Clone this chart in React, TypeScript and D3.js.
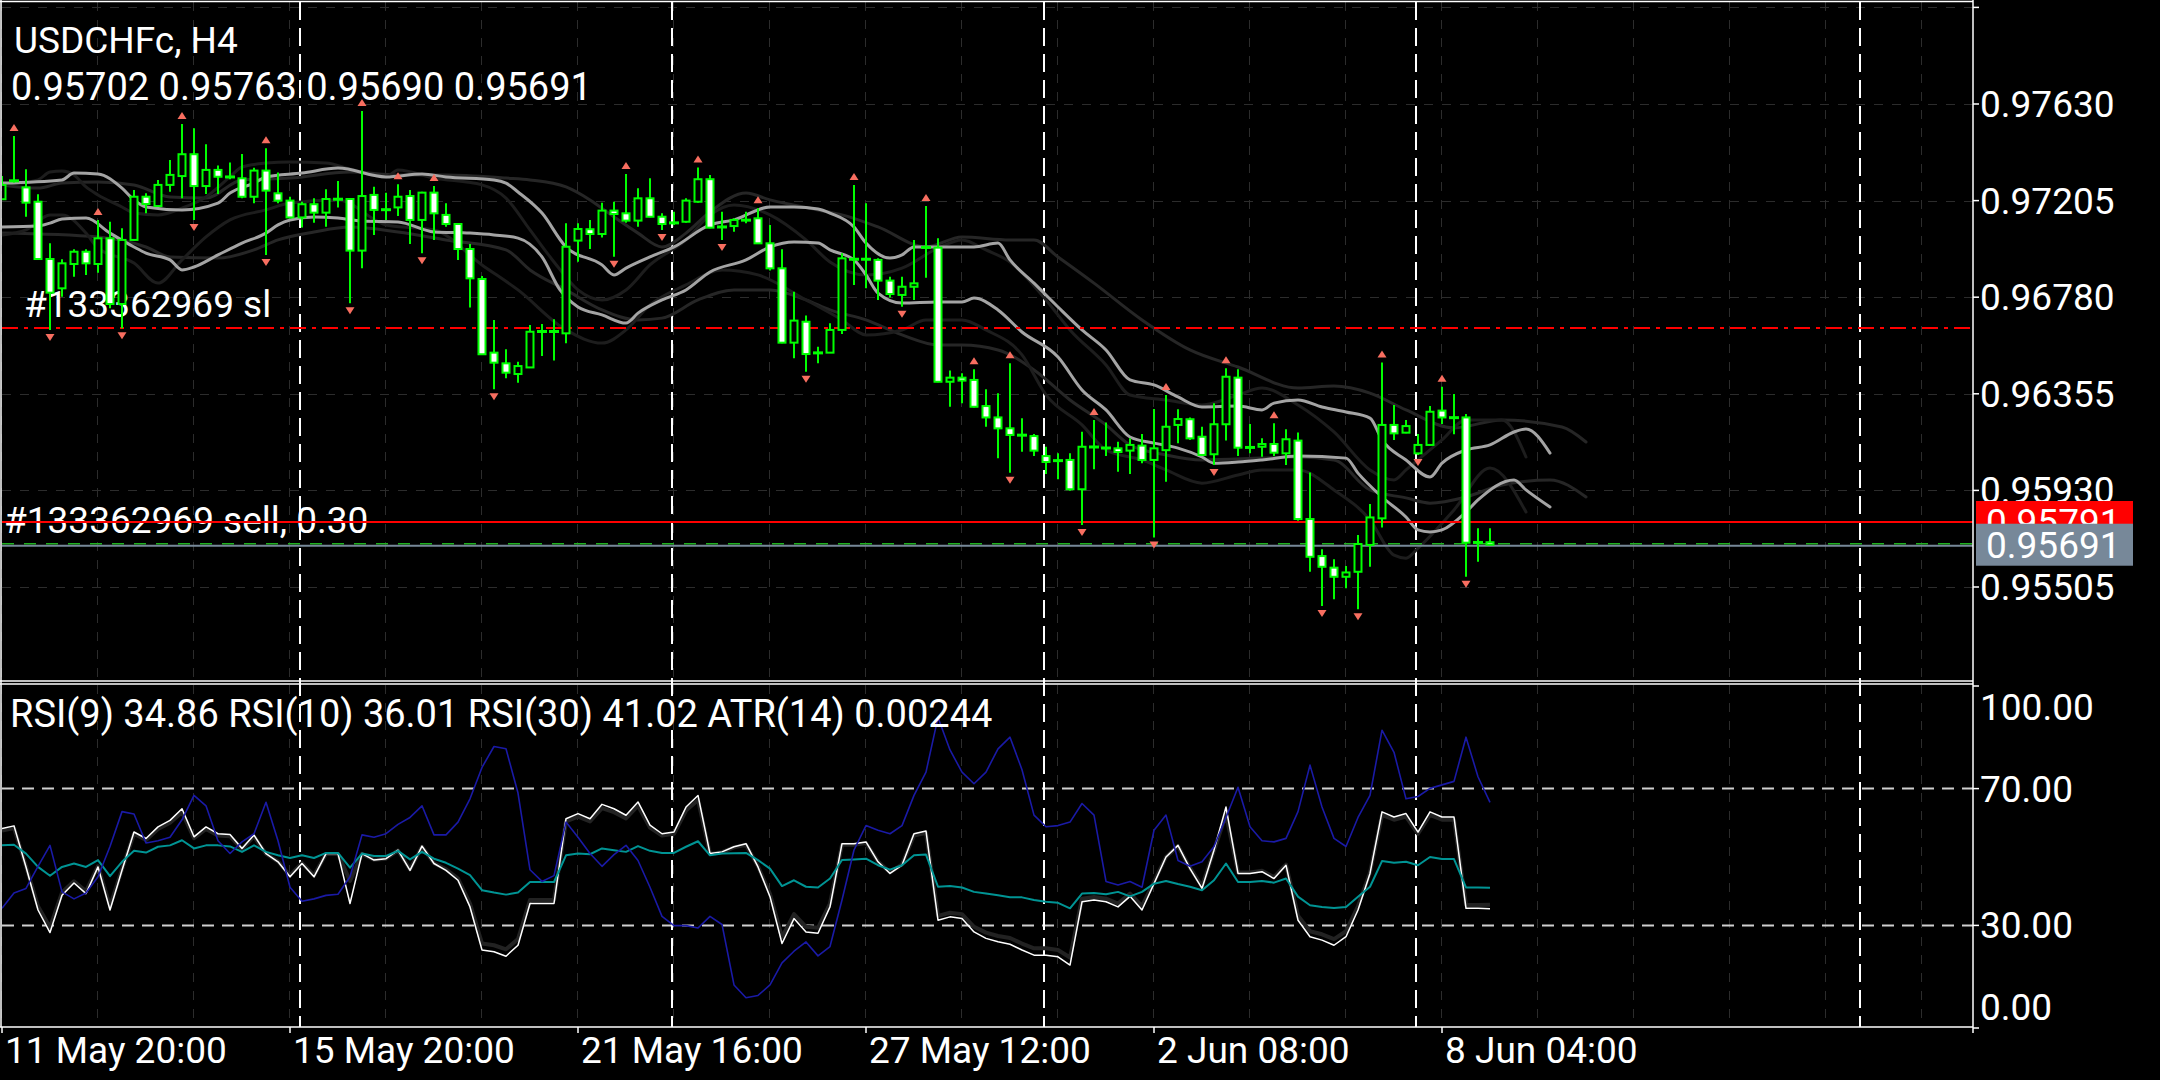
import React, { useEffect } from "react";
import * as d3 from "d3";

// ---------- DATA ----------
const symbolTitle = "USDCHFc, H4";
const ohlcHeader = "0.95702 0.95763 0.95690 0.95691";
const slLabel = "#133362969 sl";
const orderLabel = "#133362969 sell, 0.30";
const indicatorLabel = "RSI(9) 34.86 RSI(10) 36.01 RSI(30) 41.02 ATR(14) 0.00244";

const slPrice = 0.96644;
const orderPrice = 0.95791;
const bidPrice = 0.95691;

const priceTicks = [0.9763, 0.97205, 0.9678, 0.96355, 0.9593, 0.95505];
const priceGridTop = 0.98055;
const rsiTicks = [100, 70, 30, 0];
const rsiLevels = [70, 30];
const timeLabelBars = [0, 24, 48, 72, 96, 120];
const timeLabels = ["11 May 20:00", "15 May 20:00", "21 May 16:00", "27 May 12:00", "2 Jun 08:00", "8 Jun 04:00"];
const weekStartBars = [25, 56, 87, 118, 155];

const candleOpen = [
  0.97211, 0.97288, 0.97263, 0.972, 0.96948, 0.96819, 0.96926, 0.9698, 0.96926, 0.97039,
  0.9675, 0.97032, 0.97222, 0.97181, 0.97274, 0.97313, 0.97409, 0.97269, 0.9734, 0.9731,
  0.97303, 0.97222, 0.97337, 0.97237, 0.97205, 0.97131, 0.97189, 0.97152, 0.97212, 0.97212,
  0.96985, 0.9723, 0.97164, 0.97175, 0.97225, 0.9712, 0.9724, 0.97142, 0.97102, 0.96992,
  0.9686, 0.96536, 0.96489, 0.96442, 0.96471, 0.96628, 0.9663, 0.96621, 0.97029, 0.97079,
  0.97058, 0.97161, 0.97149, 0.97117, 0.97215, 0.97134, 0.97108, 0.97112, 0.972, 0.97299,
  0.9709, 0.97093, 0.9712, 0.97127, 0.97017, 0.96907, 0.9658, 0.96672, 0.96536, 0.96536,
  0.96636, 0.96948, 0.96946, 0.96944, 0.96853, 0.9679, 0.96826, 0.96998, 0.96998, 0.96408,
  0.96426, 0.96416, 0.96301, 0.96251, 0.96203, 0.96174, 0.96169, 0.96081, 0.96062, 0.96064,
  0.95935, 0.96122, 0.96118, 0.96115, 0.96105, 0.96127, 0.96064, 0.96107, 0.96218, 0.96243,
  0.96166, 0.96089, 0.96221, 0.96426, 0.96118, 0.96122, 0.96134, 0.96093, 0.96149, 0.95804,
  0.95641, 0.9559, 0.9555, 0.95572, 0.9569, 0.95807, 0.96218, 0.96184, 0.96093, 0.9613,
  0.96281, 0.96251, 0.96251, 0.957, 0.95702,
];
const candleHigh = [
  0.97313, 0.97489, 0.97343, 0.97233, 0.97017, 0.96947, 0.96991, 0.96991, 0.9712, 0.97112,
  0.97083, 0.97252, 0.97237, 0.97296, 0.97384, 0.97542, 0.97523, 0.97453, 0.97359, 0.97373,
  0.9741, 0.9735, 0.97435, 0.97329, 0.97222, 0.972, 0.97215, 0.97255, 0.97291, 0.97214,
  0.97599, 0.97266, 0.9724, 0.97277, 0.97252, 0.97244, 0.97269, 0.97193, 0.97105, 0.97014,
  0.96873, 0.9668, 0.96551, 0.96496, 0.96658, 0.96662, 0.96683, 0.97105, 0.97105, 0.9712,
  0.97196, 0.972, 0.97322, 0.97259, 0.97303, 0.97149, 0.97156, 0.97215, 0.97351, 0.97318,
  0.97156, 0.97127, 0.97156, 0.97171, 0.97098, 0.96991, 0.96804, 0.96699, 0.96562, 0.96665,
  0.96973, 0.97274, 0.97193, 0.96951, 0.9687, 0.9687, 0.97032, 0.97181, 0.97039, 0.96457,
  0.96445, 0.96463, 0.96375, 0.96357, 0.96489, 0.96247, 0.96178, 0.96122, 0.96093, 0.96093,
  0.96188, 0.9624, 0.96229, 0.96144, 0.96159, 0.96178, 0.96288, 0.9635, 0.96287, 0.96251,
  0.9621, 0.96313, 0.96467, 0.96463, 0.96222, 0.96159, 0.96225, 0.96199, 0.96185, 0.96009,
  0.95671, 0.95627, 0.95597, 0.95734, 0.9587, 0.96493, 0.96306, 0.9624, 0.96178, 0.96301,
  0.96386, 0.96354, 0.96266, 0.95763, 0.95763,
];
const candleLow = [
  0.97208, 0.97285, 0.97134, 0.96946, 0.96636, 0.96782, 0.9687, 0.96878, 0.96888, 0.96731,
  0.96643, 0.9703, 0.97149, 0.97178, 0.97244, 0.97215, 0.9712, 0.97234, 0.97234, 0.97299,
  0.97215, 0.97193, 0.96966, 0.97193, 0.97127, 0.97087, 0.97108, 0.9709, 0.97175, 0.96753,
  0.96907, 0.97054, 0.9712, 0.97137, 0.97014, 0.96973, 0.97032, 0.9709, 0.96944, 0.96735,
  0.96526, 0.96375, 0.96423, 0.96404, 0.96468, 0.96521, 0.96501, 0.96577, 0.96936, 0.96992,
  0.97043, 0.96958, 0.97108, 0.9709, 0.97132, 0.97076, 0.97098, 0.97108, 0.97196, 0.97083,
  0.97032, 0.97068, 0.97105, 0.97015, 0.96897, 0.96577, 0.96511, 0.96452, 0.96489, 0.96534,
  0.96618, 0.96834, 0.96819, 0.96768, 0.96779, 0.96738, 0.96768, 0.96866, 0.96406, 0.96298,
  0.96313, 0.96295, 0.9621, 0.96071, 0.96008, 0.961, 0.96081, 0.96002, 0.95979, 0.95929,
  0.95778, 0.96023, 0.96081, 0.96012, 0.96002, 0.96049, 0.95723, 0.95968, 0.96137, 0.96152,
  0.96084, 0.96042, 0.96149, 0.96081, 0.96093, 0.96078, 0.96081, 0.96042, 0.95797, 0.95572,
  0.95421, 0.95451, 0.95499, 0.95407, 0.95594, 0.95767, 0.96152, 0.96181, 0.96086, 0.96128,
  0.96222, 0.96177, 0.9555, 0.95616, 0.9569,
];
const candleClose = [
  0.97274, 0.97296, 0.97196, 0.96948, 0.968, 0.96929, 0.9698, 0.96929, 0.97039, 0.9675,
  0.97032, 0.97222, 0.9719, 0.97274, 0.97318, 0.97409, 0.97269, 0.9734, 0.9731, 0.97308,
  0.97222, 0.97337, 0.97249, 0.97205, 0.97131, 0.97189, 0.97152, 0.97212, 0.9721, 0.96985,
  0.97225, 0.97164, 0.97166, 0.97222, 0.9712, 0.9724, 0.97149, 0.97102, 0.96992, 0.96863,
  0.96529, 0.96492, 0.96448, 0.96477, 0.96628, 0.9663, 0.96628, 0.97002, 0.9708, 0.97058,
  0.97161, 0.97146, 0.97117, 0.97215, 0.97134, 0.97102, 0.97106, 0.97205, 0.97299, 0.97086,
  0.97088, 0.9712, 0.97118, 0.97017, 0.96907, 0.9658, 0.96677, 0.9653, 0.96534, 0.96636,
  0.96951, 0.96946, 0.96948, 0.96853, 0.96794, 0.96826, 0.96841, 0.97, 0.96408, 0.96426,
  0.96413, 0.96298, 0.96251, 0.96203, 0.96174, 0.96172, 0.96105, 0.96055, 0.9606, 0.95935,
  0.96122, 0.9612, 0.96115, 0.96099, 0.9613, 0.96064, 0.96115, 0.9621, 0.96244, 0.96159,
  0.96086, 0.96221, 0.9643, 0.96118, 0.9612, 0.96134, 0.96096, 0.96155, 0.95804, 0.95638,
  0.95594, 0.9555, 0.95569, 0.95694, 0.95811, 0.96218, 0.96181, 0.96213, 0.9613, 0.96276,
  0.96251, 0.96249, 0.957, 0.95702, 0.95691,
];

const fractalUpBars = [1, 8, 15, 22, 30, 33, 36, 52, 58, 63, 71, 77, 81, 84, 91, 97, 102, 106, 115, 120];
const fractalDownBars = [4, 10, 16, 22, 29, 35, 41, 51, 55, 60, 67, 75, 84, 90, 96, 101, 110, 113, 118, 122];

// envelope-type overlays: [bar, price]
const envLightUpper: [number, number][] = [
  [0, 0.97282], [5, 0.97296], [6, 0.97326], [8, 0.97322], [10, 0.9726], [11, 0.97208], [12, 0.97177], [15, 0.97164],
  [18, 0.97194], [19, 0.97238], [21, 0.97282], [22, 0.97309], [25, 0.97326], [28, 0.97348], [32, 0.97309], [35, 0.97322],
  [37, 0.97309], [41, 0.97296], [42, 0.97282], [43, 0.97243], [45, 0.9715], [47, 0.97001], [50, 0.96922], [51, 0.96878],
  [52, 0.96908], [54, 0.96957], [56, 0.97001], [59, 0.97098], [61, 0.9712], [64, 0.97177], [66, 0.97177], [68, 0.97168],
  [69, 0.9715], [71, 0.97089], [72, 0.97018], [74, 0.96952], [75, 0.96966], [76, 0.97001], [79, 0.97001], [81, 0.97001],
  [83, 0.97018], [84, 0.96944], [86, 0.96842], [88, 0.96737], [90, 0.96636], [92, 0.96548], [94, 0.96416], [96, 0.96394],
  [98, 0.96341], [100, 0.96297], [103, 0.96301], [105, 0.96284], [106, 0.96314], [108, 0.96328], [110, 0.96297],
  [112, 0.96275], [114, 0.96248], [115, 0.96152], [117, 0.96064], [119, 0.95989], [120, 0.9605], [122, 0.96108],
  [124, 0.9613], [126, 0.96187], [127, 0.962], [129, 0.96094],
];
const envLightLower: [number, number][] = [
  [0, 0.97089], [3, 0.97093], [4, 0.97106], [5, 0.97124], [7, 0.97128], [9, 0.97062], [11, 0.97001], [12, 0.96974],
  [14, 0.96944], [15, 0.969], [16, 0.96913], [18, 0.96966], [20, 0.97018], [22, 0.97062], [23, 0.97098], [24, 0.9712],
  [26, 0.97133], [28, 0.97128], [30, 0.97115], [33, 0.97111], [36, 0.97067], [39, 0.97062], [41, 0.97054], [43, 0.9704],
  [45, 0.96957], [46.5, 0.96812], [48, 0.96737], [50, 0.96702], [52, 0.96666], [53, 0.9671], [55, 0.96768], [57, 0.96812],
  [59, 0.96891], [62, 0.96944], [64, 0.97001], [66, 0.97023], [68, 0.97018], [69, 0.96988], [71, 0.96944], [72, 0.96878],
  [73, 0.96798], [75, 0.96754], [78, 0.96759], [80, 0.96759], [81, 0.96776], [83, 0.96724], [85, 0.96627], [88, 0.96517],
  [90, 0.96372], [92, 0.96284], [94, 0.96165], [96, 0.96138], [98, 0.96116], [100, 0.96077], [101, 0.9605], [103, 0.96055],
  [105, 0.96064], [108, 0.96081], [112, 0.96072], [113, 0.96006], [115, 0.95901], [117, 0.95813], [118, 0.95756],
  [119, 0.95747], [120, 0.95756], [122, 0.95835], [123, 0.95888], [126, 0.95976], [127, 0.95932], [129, 0.95857],
];
const envSlowUpper: [number, number][] = [
  [0, 0.97274], [3, 0.9726], [5, 0.97282], [8, 0.97287], [11, 0.97274], [14, 0.97221], [17, 0.97216], [20, 0.97296],
  [24, 0.97304], [29, 0.97331], [33, 0.97318], [37, 0.97318], [42, 0.97304], [44, 0.97296], [47, 0.97265], [49, 0.97208],
  [51, 0.97133], [53, 0.97062], [55, 0.97001], [57, 0.97062], [59, 0.97155], [62, 0.97238], [64, 0.97208], [68, 0.97164],
  [70, 0.97142], [73, 0.97089], [77, 0.97001], [80, 0.97045], [84, 0.97032], [86, 0.97032], [88, 0.96957], [91, 0.96842],
  [95, 0.9668], [99, 0.96548], [103, 0.96473], [108, 0.9638], [111, 0.96389], [114, 0.96358], [117, 0.96284],
  [121, 0.96205], [125, 0.9624], [130, 0.96209], [132, 0.96143],
];
const envSlowLower: [number, number][] = [
  [0, 0.97062], [8, 0.97045], [12, 0.97001], [14, 0.96957], [18, 0.96952], [21, 0.96988], [23, 0.97032], [26, 0.97067],
  [29, 0.97089], [33, 0.97067], [37, 0.97032], [42, 0.96988], [44, 0.969], [47, 0.96812], [50, 0.96724], [53, 0.9668],
  [55, 0.96688], [58, 0.96768], [61, 0.96812], [64, 0.96812], [67, 0.96768], [69, 0.96724], [72, 0.9668], [75, 0.96614],
  [78, 0.9657], [80, 0.9657], [83, 0.96548], [86, 0.9646], [89, 0.96328], [92, 0.96218], [94, 0.9613], [97, 0.96086],
  [100, 0.96064], [105, 0.96072], [108, 0.96077], [111, 0.96064], [114, 0.95932], [117, 0.95897], [119, 0.95874],
  [122, 0.95901], [125, 0.95954], [129, 0.95976], [132, 0.95901],
];
const envFastUpper: [number, number][] = [
  [0, 0.97274], [3, 0.97296], [4, 0.97331], [5, 0.97335], [6, 0.97318], [7, 0.97265], [8, 0.9723], [10, 0.97177],
  [11, 0.9715], [13, 0.97142], [15, 0.97172], [17, 0.97221], [19, 0.97309], [20, 0.97353], [22, 0.9737], [24, 0.97375],
  [27, 0.9737], [29, 0.97344], [32, 0.97309], [33, 0.9734], [36, 0.97304], [40, 0.97274], [42, 0.97216], [44, 0.97076],
  [46, 0.96935], [48, 0.96812], [50, 0.96768], [52, 0.96812], [54, 0.96922], [57, 0.97032], [59, 0.97142], [61, 0.97186],
  [64, 0.97142], [67, 0.97032], [69, 0.96935], [72, 0.96878], [75, 0.96908], [78, 0.96996], [80, 0.97032], [82, 0.96988],
  [84, 0.96935], [87, 0.96768], [89, 0.96636], [92, 0.96482], [94, 0.9635], [97, 0.96328], [100, 0.96306], [103, 0.9635],
  [105, 0.9638], [108, 0.96306], [111, 0.96187], [114, 0.9602], [116, 0.95976], [117, 0.9602], [120, 0.96152],
  [122, 0.9624], [125, 0.9624], [127, 0.96077],
];
const envFastLower: [number, number][] = [
  [0, 0.97054], [2, 0.97076], [4, 0.97142], [5, 0.97142], [7, 0.97062], [8, 0.96996], [11, 0.9693], [13, 0.96842],
  [15, 0.96944], [17, 0.97045], [19, 0.9712], [22, 0.97164], [24, 0.97194], [28, 0.97208], [32, 0.97098], [36, 0.97076],
  [40, 0.96922], [43, 0.96812], [47, 0.96636], [50, 0.96578], [52, 0.96636], [54, 0.96746], [57, 0.96834], [60, 0.969],
  [63, 0.96878], [67, 0.96768], [70, 0.9668], [72, 0.96614], [75, 0.96636], [77, 0.9668], [80, 0.9668], [82, 0.96636],
  [85, 0.96526], [87, 0.9635], [90, 0.96218], [92, 0.96108], [95, 0.96064], [97, 0.9602], [100, 0.95962], [103, 0.95998],
  [105, 0.9602], [108, 0.9602], [111, 0.95932], [114, 0.958], [116, 0.95645], [117, 0.95632], [118, 0.95676],
  [121, 0.95844], [124, 0.96028], [127, 0.95835],
];

const rsi9 = [
  58.3, 59.1, 47.1, 34.5, 27.9, 38.8, 42.4, 39.3, 47.1, 34.5, 46.1, 57.3, 55.4, 58.8, 60.7, 64.1, 55.9, 58.8, 56.8, 56.6,
  52.5, 56.4, 51.0, 48.6, 44.2, 48.1, 44.2, 51.0, 51.0, 36.4, 51.0, 49.1, 49.5, 52.0, 46.1, 53.2, 48.1, 46.1, 43.2, 35.4,
  22.8, 22.3, 21.0, 24.2, 36.4, 36.4, 36.4, 61.2, 62.7, 61.2, 65.4, 64.1, 62.2, 66.1, 59.3, 56.8, 57.3, 64.6, 68.0, 51.0,
  51.5, 53.0, 53.9, 47.1, 38.4, 24.7, 32.0, 28.1, 27.7, 35.4, 53.9, 53.9, 54.4, 48.6, 45.2, 47.6, 56.8, 57.6, 31.5, 32.5,
  32.0, 28.1, 26.2, 25.2, 24.5, 22.8, 21.3, 21.3, 20.8, 18.4, 36.9, 37.4, 36.9, 35.4, 38.5, 34.5, 42.2, 50.0, 53.4, 46.6,
  40.8, 52.0, 64.6, 45.2, 45.2, 45.7, 43.7, 47.6, 31.5, 26.7, 25.7, 24.2, 26.7, 34.5, 45.2, 63.2, 61.7, 62.7, 57.3, 63.2,
  61.7, 61.7, 35.0, 35.0, 34.86,
];
const rsi10 = [
  57.7, 58.5, 47.3, 35.6, 29.4, 39.6, 42.9, 40.0, 47.3, 35.6, 46.4, 56.8, 55.0, 58.2, 60.0, 63.1, 55.5, 58.2, 56.3, 56.1,
  52.3, 56.0, 50.9, 48.7, 44.6, 48.2, 44.6, 50.9, 50.9, 43.0, 50.9, 49.2, 49.5, 51.9, 46.4, 53.0, 48.2, 46.4, 43.7, 36.4,
  24.7, 24.2, 23.0, 26.0, 37.4, 37.4, 37.4, 60.4, 61.8, 60.4, 64.3, 63.1, 61.3, 65.0, 58.6, 56.3, 56.8, 63.6, 66.7, 50.9,
  51.4, 52.8, 53.6, 47.3, 39.2, 26.5, 33.3, 29.6, 29.3, 36.4, 53.6, 53.6, 54.1, 48.7, 45.5, 47.8, 56.3, 57.1, 32.8, 33.7,
  33.3, 29.6, 27.9, 26.9, 26.3, 24.7, 23.3, 23.3, 22.8, 20.6, 37.8, 38.3, 37.8, 36.4, 39.3, 35.6, 42.7, 50.0, 53.2, 46.8,
  41.4, 51.9, 62.5, 45.5, 45.5, 46.0, 44.1, 47.8, 32.8, 28.3, 27.4, 26.0, 28.3, 35.6, 45.5, 62.3, 60.9, 61.8, 56.8, 62.3,
  60.9, 60.9, 36.0, 36.0, 36.01,
];
const rsi30 = [
  53.4, 53.6, 51.0, 47.1, 44.5, 47.1, 48.1, 47.1, 49.1, 44.4, 48.6, 51.8, 51.3, 53.0, 53.4, 54.9, 52.5, 53.4, 53.4, 53.1,
  51.5, 53.4, 51.5, 50.5, 49.7, 50.5, 49.7, 51.2, 51.2, 46.9, 51.0, 50.3, 50.3, 51.8, 49.3, 51.5, 49.5, 48.3, 46.6, 44.7,
  40.3, 39.6, 39.0, 39.6, 42.7, 42.7, 42.7, 50.5, 51.0, 50.8, 52.5, 52.0, 51.5, 53.2, 51.8, 51.2, 51.2, 53.0, 54.6, 50.5,
  51.0, 51.1, 51.2, 49.1, 46.6, 41.5, 43.2, 41.3, 41.1, 43.7, 49.1, 49.3, 49.5, 47.6, 46.3, 47.6, 50.5, 50.7, 41.3, 41.5,
  41.1, 39.8, 39.3, 38.8, 38.2, 38.2, 37.4, 36.9, 36.6, 35.0, 39.3, 39.5, 39.1, 39.8, 38.5, 39.8, 42.2, 43.0, 42.1, 41.3,
  40.3, 43.2, 48.1, 42.7, 42.7, 43.0, 42.5, 43.7, 38.4, 35.9, 35.4, 35.1, 35.4, 38.4, 41.3, 48.8, 48.3, 48.6, 47.6, 50.0,
  49.4, 49.4, 41.1, 41.1, 41.02,
];
const atr14 = [
  0.00153, 0.00166, 0.0017, 0.00189, 0.00207, 0.00167, 0.00161, 0.00166, 0.0018, 0.00206,
  0.00236, 0.00234, 0.00209, 0.00211, 0.00214, 0.00229, 0.0025, 0.00241, 0.00211, 0.002,
  0.0021, 0.00217, 0.00244, 0.00211, 0.00171, 0.00159, 0.00161, 0.00164, 0.00165, 0.0018,
  0.00216, 0.00214, 0.00217, 0.00225, 0.00231, 0.00241, 0.00216, 0.00216, 0.00227, 0.00247,
  0.00274, 0.00292, 0.0029, 0.00252, 0.00186, 0.00176, 0.00181, 0.00227, 0.00214, 0.002,
  0.00189, 0.00199, 0.00207, 0.00194, 0.00171, 0.00146, 0.00138, 0.00138, 0.00136, 0.00146,
  0.00139, 0.00087, 0.00076, 0.00078, 0.00087, 0.00106, 0.00116, 0.00124, 0.00112, 0.0012,
  0.0016, 0.00203, 0.00224, 0.0022, 0.00217, 0.00224, 0.0025, 0.0027, 0.00317, 0.00289,
  0.0027, 0.0026, 0.0027, 0.0029, 0.003, 0.00272, 0.00233, 0.00223, 0.00224, 0.00227,
  0.00243, 0.00233, 0.00176, 0.00173, 0.00176, 0.00171, 0.0022, 0.00233, 0.00194, 0.00189,
  0.00193, 0.00206, 0.00231, 0.00257, 0.00223, 0.00211, 0.0021, 0.00213, 0.00236, 0.00276,
  0.0024, 0.00213, 0.00206, 0.00231, 0.0025, 0.00306, 0.00287, 0.00247, 0.00249, 0.00256,
  0.00259, 0.00262, 0.003, 0.00266, 0.00244,
];

// ---------- LAYOUT ----------
const W = 2160;
const H = 1080;
const plotRight = 1973;
const mainTop = 2;
const mainBottom = 681;
const subTop = 685;
const subBottom = 1027;
const FONT = "Roboto, 'Noto Sans', sans-serif";
const GREEN = "#00ff00";

export default function App() {
  useEffect(() => {
    document.body.style.margin = "0";
    document.body.style.background = "#000";
  }, []);

  const x = d3.scaleLinear().domain([0, 164]).range([2, 1970]);
  const y = d3.scaleLinear().domain([0.95505, 0.9763]).range([587, 104]);
  const yR = d3.scaleLinear().domain([0, 100]).range([1028, 686]);
  const yA = d3.scaleLinear().domain([0.0005, 0.00344]).range([1028, 686]);

  const envLine = d3
    .line<[number, number]>()
    .x((d) => x(d[0]))
    .y((d) => y(d[1]))
    .curve(d3.curveMonotoneX);
  const rsiLine = (arr: number[]) =>
    d3
      .line<number>()
      .x((_, i) => x(i))
      .y((d) => yR(d))(arr) || "";
  const atrPath =
    d3
      .line<number>()
      .x((_, i) => x(i))
      .y((d) => yA(d))(atr14) || "";

  const gridBars = d3.range(0, 164, 8);

  const candles = candleOpen.map((o, i) => {
    const c = candleClose[i];
    const h = candleHigh[i];
    const l = candleLow[i];
    const cx = x(i);
    const top = y(Math.max(o, c));
    const bot = y(Math.min(o, c));
    const bear = c < o;
    const flat = bot - top < 2.5;
    return (
      <g key={"c" + i}>
        <line x1={cx} x2={cx} y1={y(h)} y2={y(l)} stroke={GREEN} strokeWidth={2} />
        {flat ? (
          <line x1={cx - 5} x2={cx + 5} y1={(top + bot) / 2} y2={(top + bot) / 2} stroke={GREEN} strokeWidth={3} />
        ) : (
          <rect
            x={cx - 3.5}
            y={top}
            width={7}
            height={bot - top}
            fill={bear ? "#ffffff" : "#000000"}
            stroke={GREEN}
            strokeWidth={2}
          />
        )}
      </g>
    );
  });

  const fractalColor = "#f86e60";
  const fractalsUp = fractalUpBars.map((i) => {
    const cx = x(i);
    const by = y(candleHigh[i]) - 5;
    return <path key={"fu" + i} d={`M${cx - 4.5},${by} L${cx + 4.5},${by} L${cx},${by - 7} Z`} fill={fractalColor} />;
  });
  const fractalsDown = fractalDownBars.map((i) => {
    const cx = x(i);
    const by = y(candleLow[i]) + 4;
    return <path key={"fd" + i} d={`M${cx - 4.5},${by} L${cx + 4.5},${by} L${cx},${by + 7} Z`} fill={fractalColor} />;
  });

  return (
    <svg
      width={W}
      height={H}
      style={{ display: "block", position: "absolute", left: 0, top: 0 }}
      fontFamily={FONT}
    >
      <defs>
        <clipPath id="mainClip">
          <rect x={2} y={mainTop} width={plotRight - 2} height={mainBottom - mainTop} />
        </clipPath>
        <clipPath id="subClip">
          <rect x={2} y={subTop} width={plotRight - 2} height={subBottom - subTop} />
        </clipPath>
      </defs>
      <rect x={0} y={0} width={W} height={H} fill="#000" />

      {/* faint grid */}
      <g stroke="#2c2c2c" strokeWidth={1} strokeDasharray="9,9">
        {[priceGridTop, ...priceTicks].map((p) => (
          <line key={"hg" + p} x1={2} x2={plotRight} y1={Math.round(y(p)) + 0.5} y2={Math.round(y(p)) + 0.5} />
        ))}
        {gridBars.map((b) => (
          <g key={"vg" + b}>
            <line x1={Math.round(x(b)) - 0.5} x2={Math.round(x(b)) - 0.5} y1={mainTop} y2={mainBottom} />
            <line x1={Math.round(x(b)) - 0.5} x2={Math.round(x(b)) - 0.5} y1={subTop} y2={subBottom} />
          </g>
        ))}
      </g>

      {/* RSI levels */}
      <g stroke="#cfcfcf" strokeWidth={2} strokeDasharray="12,8">
        {rsiLevels.map((v) => (
          <line key={"rl" + v} x1={2} x2={plotRight} y1={yR(v)} y2={yR(v)} />
        ))}
      </g>

      {/* week separators */}
      <g stroke="#ffffff" strokeWidth={2} strokeDasharray="18,8">
        {weekStartBars.map((b) => (
          <line key={"ws" + b} x1={x(b) - 2} x2={x(b) - 2} y1={mainTop} y2={subBottom} />
        ))}
      </g>

      {/* main panel content */}
      <g clipPath="url(#mainClip)">
        <g fill="#ffffff" fontSize={37}>
          <text x={24} y={317}>{slLabel}</text>
          <text x={4} y={533}>{orderLabel}</text>
        </g>
        <g fill="none" strokeLinejoin="round" strokeLinecap="round">
          <path d={envLine(envSlowUpper) || ""} stroke="#262626" strokeWidth={3} />
          <path d={envLine(envSlowLower) || ""} stroke="#262626" strokeWidth={3} />
          <path d={envLine(envFastUpper) || ""} stroke="#1d1d1d" strokeWidth={3} />
          <path d={envLine(envFastLower) || ""} stroke="#1d1d1d" strokeWidth={3} />
          <path d={envLine(envLightUpper) || ""} stroke="#a4a4a4" strokeWidth={3} />
          <path d={envLine(envLightLower) || ""} stroke="#a4a4a4" strokeWidth={3} />
        </g>
        <line x1={2} x2={plotRight} y1={y(slPrice)} y2={y(slPrice)} stroke="#ff0000" strokeWidth={2} strokeDasharray="16,6,4,6" />
        <line x1={2} x2={plotRight} y1={y(orderPrice)} y2={y(orderPrice)} stroke="#ff0000" strokeWidth={2} />
        <line x1={2} x2={plotRight} y1={y(bidPrice) + 1} y2={y(bidPrice) + 1} stroke="#778899" strokeWidth={2} />
        <line x1={2} x2={plotRight} y1={y(bidPrice) - 1} y2={y(bidPrice) - 1} stroke="#20b020" strokeWidth={1.5} strokeDasharray="12,10" />
        {candles}
        {fractalsUp}
        {fractalsDown}
      </g>

      {/* sub panel content */}
      <g clipPath="url(#subClip)" fill="none" strokeLinejoin="round">
        <path d={rsiLine(rsi10)} stroke="#222222" strokeWidth={4} />
        <path d={rsiLine(rsi9)} stroke="#ffffff" strokeWidth={1.5} />
        <path d={rsiLine(rsi30)} stroke="#009494" strokeWidth={2} />
        <path d={atrPath} stroke="#1a1aa6" strokeWidth={1.6} />
      </g>

      {/* borders */}
      <g stroke="#ffffff" strokeWidth={1.5} fill="none">
        <line x1={0} x2={plotRight} y1={1.5} y2={1.5} />
        <line x1={1} x2={1} y1={0} y2={subBottom} />
        <line x1={plotRight} x2={plotRight} y1={0} y2={subBottom + 6} />
        <line x1={0} x2={plotRight} y1={mainBottom} y2={mainBottom} />
        <line x1={0} x2={plotRight} y1={mainBottom + 3} y2={mainBottom + 3} />
        <line x1={0} x2={plotRight} y1={subBottom} y2={subBottom} />
        {[priceGridTop, ...priceTicks].map((p) => (
          <line key={"pt" + p} x1={plotRight} x2={plotRight + 6} y1={y(p)} y2={y(p)} />
        ))}
        {rsiTicks.map((v) => (
          <line key={"rt" + v} x1={plotRight} x2={plotRight + 6} y1={yR(v)} y2={yR(v)} />
        ))}
        {timeLabelBars.map((b) => (
          <line key={"tt" + b} x1={x(b)} x2={x(b)} y1={subBottom} y2={subBottom + 6} />
        ))}
      </g>

      {/* texts */}
      <g fill="#ffffff" fontSize={37}>
        <text x={14} y={53}>{symbolTitle}</text>
        <text x={11} y={100} fontSize={38}>{ohlcHeader}</text>
        <text x={10} y={727} fontSize={38}>{indicatorLabel}</text>
        {priceTicks.map((p) => (
          <text key={"pl" + p} x={1980} y={y(p) + 13}>
            {p.toFixed(5)}
          </text>
        ))}
        {rsiTicks.map((v) => {
          const cy = v === 100 ? 707 : v === 0 ? 1007 : yR(v);
          return (
            <text key={"rtl" + v} x={1980} y={cy + 13}>
              {v.toFixed(2)}
            </text>
          );
        })}
        {timeLabels.map((t, k) => (
          <text key={"tl" + k} x={x(timeLabelBars[k]) + 3} y={1063}>
            {t}
          </text>
        ))}
      </g>

      {/* price tags */}
      <rect x={1976} y={y(orderPrice) - 21} width={157} height={42} fill="#ff0000" />
      <text x={1986} y={y(orderPrice) + 13} fill="#ffffff" fontSize={37} fontFamily={FONT}>
        {orderPrice.toFixed(5)}
      </text>
      <rect x={1976} y={y(bidPrice) - 21} width={157} height={42} fill="#778899" />
      <text x={1986} y={y(bidPrice) + 13} fill="#ffffff" fontSize={37} fontFamily={FONT}>
        {bidPrice.toFixed(5)}
      </text>
    </svg>
  );
}
